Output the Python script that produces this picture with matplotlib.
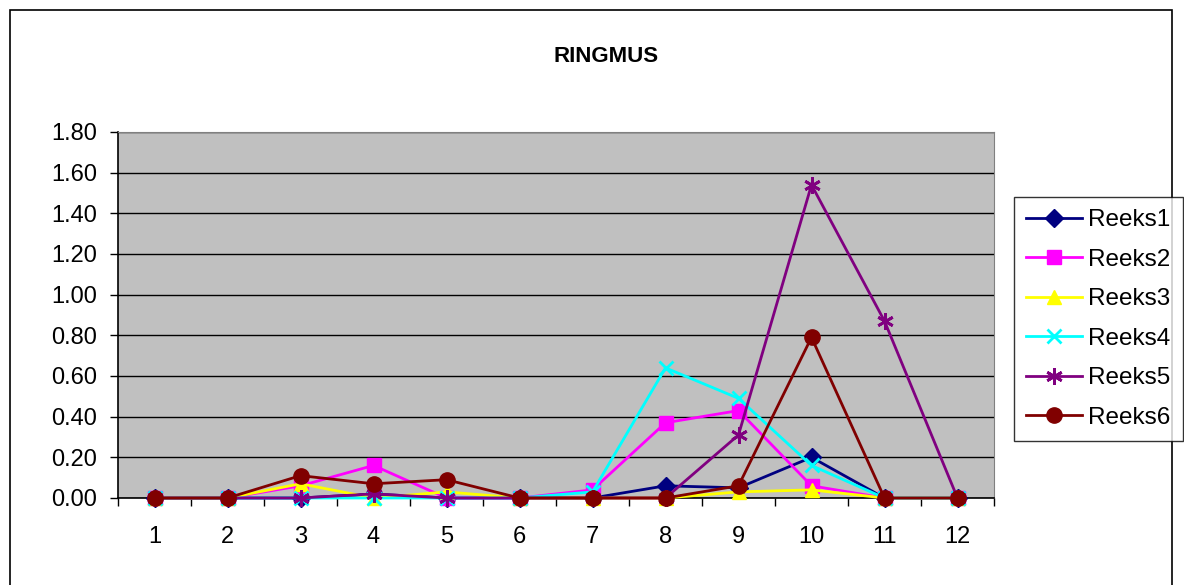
import matplotlib
matplotlib.use('Agg')
import matplotlib.pyplot as plt
from matplotlib.patches import Rectangle

plt.rcParams['font.family'] = ['Liberation Sans', 'DejaVu Sans']

# data
maanden = [1, 2, 3, 4, 5, 6, 7, 8, 9, 10, 11, 12]
reeks1 = [0, 0, 0.00, 0.02, 0.00, 0, 0.00, 0.06, 0.05, 0.20, 0, 0]
reeks2 = [0, 0, 0.06, 0.16, 0.00, 0, 0.04, 0.37, 0.43, 0.06, 0, 0]
reeks3 = [0, 0, 0.07, 0.00, 0.03, 0, 0.00, 0.00, 0.03, 0.04, 0, 0]
reeks4 = [0, 0, 0.00, 0.00, 0.00, 0, 0.03, 0.64, 0.49, 0.16, 0, 0]
reeks5 = [0, 0, 0.00, 0.02, 0.00, 0, 0.00, 0.00, 0.31, 1.54, 0.87, 0]
reeks6 = [0, 0, 0.11, 0.07, 0.09, 0, 0.00, 0.00, 0.06, 0.79, 0, 0]
namen = ['Reeks1', 'Reeks2', 'Reeks3', 'Reeks4', 'Reeks5', 'Reeks6']
yticks = [0.0, 0.2, 0.4, 0.6, 0.8, 1.0, 1.2, 1.4, 1.6, 1.8]

fig = plt.figure(figsize=(11.84, 5.85), dpi=100)
ax = fig.add_axes([118/1184, 87/585, 876/1184, 366/585])
ax.set_facecolor('#C0C0C0')

stijl = [
    ('#000080', 'D', 9),
    ('#FF00FF', 's', 10),
    ('#FFFF00', '^', 10),
    ('#00FFFF', 'x', 10),
    ('#800080', (6, 2, 0), 12),
    ('#800000', 'o', 11),
]
for reeks, naam, (kleur, mk, ms) in zip([reeks1, reeks2, reeks3, reeks4, reeks5, reeks6], namen, stijl):
    ax.plot(maanden, reeks, color=kleur, marker=mk, markersize=ms, lw=2,
            markeredgewidth=2 if mk in ('x', (6, 2, 0)) else 1, label=naam, clip_on=False, zorder=3)

ax.set_xlim(0.5, 12.5)
ax.set_ylim(0, 1.8)
ax.set_yticks(yticks)
ax.set_yticklabels(['%.2f' % v for v in yticks])
ax.set_xticks(maanden)
ax.set_xticks([m + 0.5 for m in range(0, 13)], minor=True)
ax.tick_params(axis='x', which='major', length=0, labelsize=17, pad=20)
ax.tick_params(axis='x', which='minor', length=6, width=1, direction='out')
ax.tick_params(axis='y', length=6, width=1, direction='out', labelsize=17, pad=9)
ax.yaxis.grid(True, color='black', lw=1)
ax.set_axisbelow(True)
for s in ['top', 'right']:
    ax.spines[s].set_color('#808080')
for s in ['left', 'bottom']:
    ax.spines[s].set_color('black')
    ax.spines[s].set_linewidth(1.2)

fig.text(606/1184, 1 - 56/585, 'RINGMUS', ha='center', va='center', fontsize=16, fontweight='bold')

leg = fig.legend(loc='upper left', bbox_to_anchor=(1014/1184, 1 - 197/585), fontsize=17.5,
                 frameon=True, fancybox=False, edgecolor='black', handlelength=2.3,
                 labelspacing=0.72, handletextpad=0.25, borderpad=0.5, borderaxespad=0)
leg.get_frame().set_linewidth(1)

fig.add_artist(Rectangle((10/1184, -0.01), 1162/1184, 1 - 10/585 + 0.01, transform=fig.transFigure,
                         fill=False, edgecolor='black', lw=1.2))

fig.savefig('out.png', dpi=100)
